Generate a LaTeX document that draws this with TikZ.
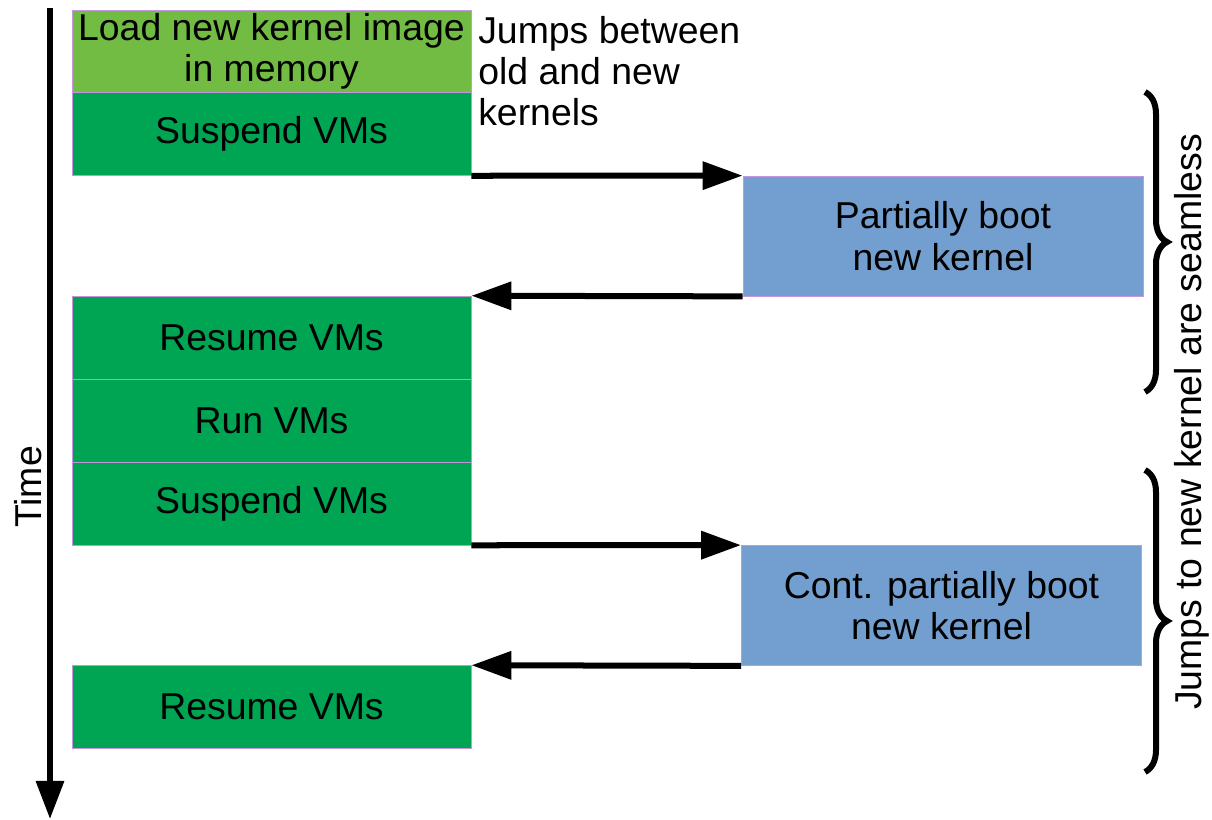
\documentclass[tikz,border=0pt]{standalone}
\usepackage{fontspec}
\setmainfont{Liberation Sans}
\usetikzlibrary{arrows.meta,decorations.pathreplacing}

\definecolor{loadgreen}{RGB}{114,188,68}
\definecolor{vmgreen}{RGB}{0,165,84}
\definecolor{bootblue}{RGB}{114,159,207}
\definecolor{edgelav}{RGB}{196,150,222}

\tikzset{
	stage/.style={rectangle, draw=edgelav, line width=0.5pt, inner sep=0pt,
		minimum width=9.975cm, align=center,
		font=\fontsize{26.6}{29.5}\selectfont},
	vmbox/.style={stage, fill=vmgreen, minimum height=2.07cm},
	loadbox/.style={stage, fill=loadgreen, minimum height=2.07cm},
	bootbox/.style={stage, fill=bootblue, minimum width=10cm, minimum height=3cm},
	jump/.style={line width=0.15cm, -{Triangle[length=1cm, width=0.68cm]}},
	seamless brace/.style={line width=0.15cm, decorate,
		decoration={brace, amplitude=0.55cm}},
	bigtext/.style={inner sep=0pt, font=\fontsize{26.6}{29.5}\selectfont}
}

\begin{document}
\begin{tikzpicture}[x=0.025cm, y=-0.025cm]
	\useasboundingbox (0,0) rectangle (1212,820);

	% time axis on the left
	\coordinate (t0) at (50,8);
	\coordinate (t1) at (50,819);
	\draw[line width=0.14cm, -{Triangle[length=0.95cm, width=0.68cm]}] (t0) -- (t1);
	\node[bigtext, rotate=90] (time) at (28,487) {Time};

	% old kernel side
	\node[loadbox] (load) at (271.5,51.5) {Load new kernel image\\in memory};
	\node[vmbox] (susp1) at (271.5,134) {Suspend VMs};
	\node[vmbox] (res1) at (271.5,337.5) {Resume VMs};
	\node[vmbox] (run) at (271.5,420.5) {Run VMs};
	\node[vmbox] (susp2) at (271.5,503.5) {Suspend VMs};
	\node[vmbox] (res2) at (271.5,707) {Resume VMs};

	% new kernel side
	\node[bootbox] (boot1) at (943,236) {Partially boot\\new kernel};
	\node[bootbox] (boot2) at (941.5,605.5) {Cont. partially boot\\new kernel};

	\node[bigtext, anchor=base west, align=left] (note) at (478,126)
		{Jumps between\\old and new\\kernels};

	% Draw the jumps between the kernels
	\draw[jump] (susp1.south east) -- (boot1.north west);
	\draw[jump] (boot1.south west) -- (res1.north east);
	\draw[jump] (susp2.south east) -- (boot2.north west);
	\draw[jump] (boot2.south west) -- (res2.north east);

	% braces on the right
	\coordinate (b1) at (1145,92);
	\coordinate (b2) at (1145,392);
	\coordinate (b3) at (1145,470);
	\coordinate (b4) at (1145,772);
	\draw[seamless brace] (b1) -- (b2);
	\draw[seamless brace] (b3) -- (b4);
	\node[bigtext, rotate=90] (seam) at (1192,422)
		{Jumps to new kernel are seamless};
\end{tikzpicture}
\end{document}
